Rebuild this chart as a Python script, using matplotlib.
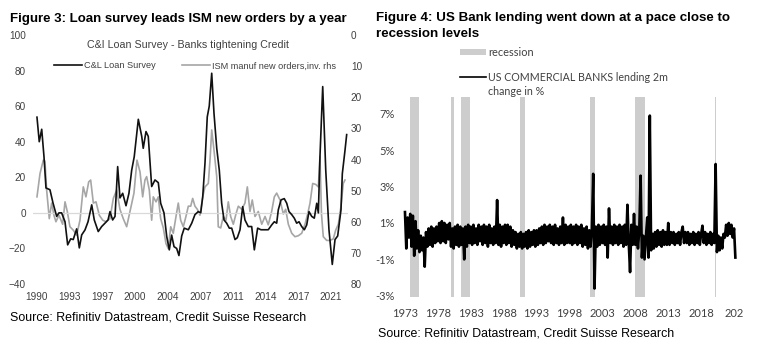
import matplotlib
matplotlib.use('Agg')
import matplotlib.pyplot as plt
import numpy as np
from matplotlib import font_manager
from matplotlib.lines import Line2D
from matplotlib.patches import Rectangle

# ---- Figure 3: C&I loan survey vs ISM new orders (inverted, rhs) ----
loan_years = [1990.0, 1990.24, 1990.5, 1990.74, 1990.95, 1991.37, 1991.69, 1992.08, 1992.32, 1992.6,
              1992.96, 1993.24, 1993.56, 1993.83, 1994.19, 1994.47, 1994.72, 1995.07, 1995.39, 1995.78,
              1996.05, 1996.47, 1996.83, 1997.18, 1997.5, 1997.71, 1997.99, 1998.24, 1998.52, 1998.76,
              1999.05, 1999.4, 1999.71, 2000.0, 2000.27, 2000.7, 2001.06, 2001.22, 2001.51, 2001.75,
              2002.11, 2002.46, 2002.81, 2003.06, 2003.41, 2003.7, 2003.97, 2004.22, 2004.47, 2004.75,
              2004.99, 2005.28, 2005.55, 2005.98, 2006.34, 2006.68, 2007.03, 2007.29, 2007.5, 2007.74,
              2007.98, 2008.19, 2008.45, 2008.69, 2008.98, 2009.25, 2009.5, 2009.75, 2010.03, 2010.31,
              2010.56, 2010.91, 2011.15, 2011.44, 2011.72, 2011.96, 2012.31, 2012.67, 2012.95, 2013.3,
              2013.65, 2014.08, 2014.42, 2014.78, 2015.06, 2015.31, 2015.48, 2015.77, 2016.11, 2016.37,
              2016.61, 2016.9, 2017.17, 2017.42, 2017.67, 2017.95, 2018.23, 2018.48, 2018.72, 2019.01,
              2019.28, 2019.54, 2019.71, 2019.88, 2020.17, 2020.49, 2020.83, 2021.18, 2021.47, 2021.75,
              2022.1, 2022.24, 2022.52, 2022.7]
loan_vals = [53.8, 40, 47, 31.6, 14, 13, 5.6, -2, 0, 0,
             -5, -18, -14.6, -15, -9, -19.7, -12.4, -9.6, -5, 4.5,
             -4, -10.5, -7.7, -5.8, -4, 0.7, -4, -2, 26, 8.4,
             11, 4, 11, 24, 31.6, 52.6, 43, 36.3, 45.7, 43,
             14.8, 18.5, 17, 5.4, 0, -13.3, -20.8, -12.5, -19, -20,
             -24, -13, -8.6, -9.5, -5.8, -1, 0.7, 0, 9, 28,
             54, 60, 78.5, 56, 36.3, 24, 5.4, -4, -5.8, -8.6,
             -8.6, -15, -14, -9.5, 3.5, -4, -7.7, -7.7, -20.8, -8.6,
             -9.5, -9.5, -9.5, -6.8, -5, -5.8, 1.7, 7.3, 8, 5.4,
             0.7, -1, -3, -5.8, -5, -7.7, -9.5, -6.8, 0.7, -2,
             -3, 5.4, 0, 31.6, 71, 24, -9.5, -29, -15, -13,
             1.7, 22, 35, 44]

ism_years = [1990.0, 1990.32, 1990.67, 1990.84, 1991.02, 1991.3, 1991.55, 1991.8, 1992.0, 1992.32,
             1992.71, 1992.96, 1993.2, 1993.48, 1993.83, 1994.19, 1994.54, 1994.89, 1995.17, 1995.46,
             1995.67, 1995.95, 1996.23, 1996.58, 1996.94, 1997.29, 1997.71, 1998.06, 1998.42, 1998.76,
             1999.11, 1999.47, 1999.82, 2000.24, 2000.56, 2000.88, 2001.16, 2001.4, 2001.58, 2001.86,
             2002.11, 2002.28, 2002.57, 2002.81, 2003.06, 2003.34, 2003.62, 2003.86, 2004.12, 2004.39,
             2004.68, 2004.92, 2005.17, 2005.45, 2005.73, 2005.98, 2006.23, 2006.44, 2006.68, 2006.93,
             2007.21, 2007.5, 2007.74, 2008.09, 2008.27, 2008.45, 2008.69, 2008.98, 2009.14, 2009.4,
             2009.67, 2009.96, 2010.2, 2010.45, 2010.73, 2011.01, 2011.26, 2011.62, 2011.96, 2012.21,
             2012.49, 2012.73, 2013.02, 2013.37, 2013.73, 2014.08, 2014.42, 2014.78, 2015.06, 2015.31,
             2015.66, 2016.01, 2016.26, 2016.54, 2016.9, 2017.24, 2017.59, 2017.95, 2018.3, 2018.58,
             2018.83, 2019.11, 2019.43, 2019.71, 2019.88, 2020.04, 2020.23, 2020.59, 2020.94, 2021.29,
             2021.54, 2021.82, 2022.1, 2022.34, 2022.52]
ism_vals = [52, 44.5, 40.2, 40.5, 49.8, 59, 54, 58, 60, 57.9,
            60.8, 53.6, 56.7, 61.6, 62.7, 64.3, 59.5, 48.8, 52, 47.2,
            46.6, 54, 53.6, 57.9, 59.5, 60, 59, 52.5, 49.8, 56,
            59, 61.6, 56.7, 50.8, 40.2, 44, 52, 46.6, 45.5, 49.8,
            59.5, 52, 53.6, 52, 59, 62, 67, 68.6, 61.6, 63.7,
            58.3, 54, 59.5, 61.6, 58.3, 55, 55, 52.5, 55, 56,
            57.9, 52, 48.8, 47.7, 40.2, 30.5, 37, 45.5, 61.6, 62,
            58.3, 59.5, 53.6, 58.3, 60.8, 57.5, 55, 56, 54, 48.8,
            56.7, 53, 58.3, 56.7, 60.8, 58.3, 61, 56.7, 52, 50.8,
            53, 57.5, 56, 60.8, 63.7, 64.8, 64.5, 63.7, 60.8, 57.5,
            54, 47.7, 48, 48.8, 39, 57.5, 64.8, 66, 66, 65.5,
            62.7, 60.8, 55, 47.7, 46.6]

left_tick_pos = [1990.0, 1993.45, 1996.9, 2000.35, 2003.8, 2007.25, 2010.7, 2014.15, 2017.6, 2021.05]
left_tick_labels = ['1990', '1993', '1997', '2000', '2004', '2007', '2011', '2014', '2017', '2021']

# ---- Figure 4: US commercial banks lending, 2m change in % ----
lending_start = 1973.0
lending_step = 0.2
lending_vals = [
    1.6, -0.4, 1.3, 0.2, 1.5, -0.3, 1.4, -0.8, 1.1, -0.4, 0.6, -0.6, 0.3, -0.5, 0.2, -1.4, 0.5, -0.3, 0.7, -0.2, 0.8, -0.3, 0.7, -0.1, 0.8,
    0.0, 1.0, -0.1, 1.1, 0.0, 1.0, -0.1, 0.9, 0.1, 1.0, -0.3, 0.7, -0.4, 0.8, -0.2, 0.9, -0.3, 0.8, -0.2, 0.7, -1.0, 0.8, -0.3, 0.9, -0.1,
    0.8, -0.2, 0.9, -0.1, 0.7, -0.2, 0.9, 0.0, 0.8, -0.2, 0.9, -0.1, 0.8, -0.3, 0.9, -0.1, 0.7, -0.2, 0.8, -0.1, 2.26, -0.2, 0.9, -0.3, 0.8,
    -0.1, 0.9, -0.2, 0.9, -0.1, 0.8, -0.3, 0.6, -0.2, 0.5, -0.4, 0.4, -0.3, 0.5, -0.4, 0.4, -0.3, 0.5, -0.4, 0.6, -0.3, 0.5, -0.2, 0.6, -0.3,
    0.6, -0.2, 0.7, -0.1, 0.8, -0.2, 0.9, -0.1, 0.8, 0.0, 0.9, -0.1, 0.8, -0.2, 0.9, -0.1, 0.7, -0.2, 0.8, -0.1, 1.3, -0.2, 0.9, -0.1, 0.8,
    -0.1, 0.9, -0.2, 0.8, -0.1, 0.9, -0.2, 0.8, -0.1, 0.9, -0.3, 0.7, -0.2, 0.8, -0.4, 0.6, -0.3, 0.7, 3.7, -2.6, 0.8, -0.3, 0.9, -0.2, 0.8,
    -0.1, 0.9, -0.2, 0.8, -0.9, 1.8, -0.1, 0.8, -0.2, 0.9, -0.1, 0.8, -0.2, 0.9, -0.1, 0.8, -0.3, 0.9, -0.2, 2.0, -0.1, -1.7, 0.9, -0.2, 1.5,
    -0.2, 0.8, -0.4, 0.6, 3.6, -0.9, 0.3, -1.0, 0.2, 1.3, -0.9, 6.9, -0.5, 0.4, -0.4, 0.5, -0.3, 0.6, -0.2, 0.5, -0.3, 0.6, -0.2, 0.5, -0.2,
    1.0, -0.2, 0.5, -0.1, 0.5, -0.2, 0.4, -0.1, 0.5, -0.2, 0.5, 0.8, -0.1, 0.5, -0.1, 0.5, -0.2, 0.4, -0.1, 0.5, -0.2, 0.4, -0.1, 0.5, -0.2,
    0.4, 0.85, -0.1, 0.5, -0.2, 0.4, -0.1, 0.5, -0.2, 0.4, -0.1, 4.24, -0.6, 0.3, -0.5, 0.2, -0.4, 0.4, 0.2, 0.9, 0.3, 1.0, 0.4, 0.9, 0.2, 0.7, -0.9,
]
recessions = [(1973.83, 1975.17), (1980.0, 1980.5), (1981.5, 1982.83), (1990.5, 1991.17),
              (2001.17, 2001.83), (2007.92, 2009.42), (2020.08, 2020.33)]
right_tick_years = [1973, 1978, 1983, 1988, 1993, 1998, 2003, 2008, 2013, 2018, 2023]
right_tick_labels = ['1973', '1978', '1983', '1988', '1993', '1998', '2003', '2008', '2013', '2018', '202']
right_y_ticks = [-3, -1, 1, 3, 5, 7]


def have_font(name):
    try:
        font_manager.findfont(name, fallback_to_default=False)
        return True
    except Exception:
        return False


narrow = 'Liberation Sans Narrow' if have_font('Liberation Sans Narrow') else 'Liberation Sans'
body = 'Liberation Sans'
calib = 'Lato'

W, H = 760, 352
fig = plt.figure(figsize=(7.6, 3.52), dpi=100)


def fx(px):
    return px / W


def fy(py):
    return 1 - py / H


# ---------------- left chart ----------------
ax1 = fig.add_axes([fx(33), fy(284), fx(315), 249 / H])
ax1.axhline(0, color='#d9d9d9', lw=0.9, zorder=1)
ax2 = ax1.twinx()
l_ism, = ax2.plot(ism_years, ism_vals, color='#a6a6a6', lw=1.2, zorder=2)
l_loan, = ax1.plot(loan_years, loan_vals, color='#111111', lw=1.2, zorder=3)
ax1.set_zorder(ax2.get_zorder() + 1)
ax1.patch.set_visible(False)

ax1.set_xlim(1989.58, 2022.84)
ax1.set_ylim(-40, 100)
ax2.set_ylim(80, 0)
ax1.set_yticks(range(-40, 101, 20))
ax2.set_yticks(range(0, 81, 10))
ax1.set_xticks(left_tick_pos)
ax1.set_xticklabels(left_tick_labels)
for a in (ax1, ax2):
    for s in a.spines.values():
        s.set_visible(False)
    a.tick_params(length=0, labelsize=7.2, labelcolor='#404040')
    for lab in a.get_xticklabels() + a.get_yticklabels():
        lab.set_fontfamily(narrow)
ax1.tick_params(axis='y', pad=5)
ax1.tick_params(axis='x', pad=6)
ax2.tick_params(axis='y', pad=2)

leg = ax1.legend([l_loan, l_ism], ['C&L Loan Survey', 'ISM manuf new orders,inv. rhs'],
                 loc='center', bbox_to_anchor=(fx(195), fy(66)), bbox_transform=fig.transFigure,
                 ncol=2, frameon=False, handlelength=3.1, handletextpad=0.25, columnspacing=2.8,
                 prop={'family': narrow, 'size': 6.6})
for t in leg.get_texts():
    t.set_color('#404040')

fig.text(fx(188), fy(45), 'C&I Loan Survey - Banks tightening Credit', ha='center', va='center',
         fontsize=7.7, color='#404040', family=narrow)

# ---------------- right chart ----------------
ax3 = fig.add_axes([fx(403), fy(296.7), fx(335), 200.2 / H])
for a, b in recessions:
    ax3.axvspan(a, b, color='#cdcdcd', lw=0, zorder=1)
lend_x = lending_start + lending_step * np.arange(len(lending_vals))
ax3.plot(lend_x, lending_vals, color='black', lw=1.9, zorder=3)
ax3.set_xlim(1972.7, 2023.6)
ax3.set_ylim(-3.05, 7.95)
ax3.set_yticks(right_y_ticks)
ax3.set_yticklabels([f'{v}%' for v in right_y_ticks])
ax3.set_xticks(right_tick_years)
ax3.set_xticklabels(right_tick_labels)
for s in ax3.spines.values():
    s.set_visible(False)
ax3.tick_params(length=0, labelsize=8, labelcolor='#404040')
ax3.tick_params(axis='y', pad=6)
ax3.tick_params(axis='x', pad=8)
for lab in ax3.get_xticklabels() + ax3.get_yticklabels():
    lab.set_fontfamily(calib)

# legend drawn above the plot area, as in the source
fig.add_artist(Rectangle((fx(460), fy(55)), fx(26), 6 / H, transform=fig.transFigure,
                         facecolor='#cdcdcd', edgecolor='none'))
fig.text(fx(488), fy(52), 'recession', ha='left', va='center', fontsize=7.9,
         color='#404040', family=calib)
fig.add_artist(Line2D([fx(460), fx(486)], [fy(77), fy(77)], transform=fig.transFigure,
                      color='black', lw=1.2))
fig.text(fx(488), fy(84.5), 'US COMMERCIAL BANKS lending 2m\nchange in %', ha='left', va='center',
         fontsize=7.7, color='#404040', family=calib, linespacing=1.35)

# ---------------- titles and sources ----------------
fig.text(fx(10), fy(22), 'Figure 3: Loan survey leads ISM new orders by a year', ha='left',
         va='baseline', fontsize=9.5, fontweight='bold', family=body)
fig.text(fx(376), fy(12), 'Figure 4: US Bank lending went down at a pace close to\nrecession levels',
         ha='left', va='top', fontsize=9.6, fontweight='bold', family=body, linespacing=1.48)
fig.text(fx(10), fy(321), 'Source: Refinitiv Datastream, Credit Suisse Research', ha='left',
         va='baseline', fontsize=8.9, family=body)
fig.text(fx(378), fy(337), 'Source: Refinitiv Datastream, Credit Suisse Research', ha='left',
         va='baseline', fontsize=8.9, family=body)

fig.savefig('out.png', dpi=100, facecolor='white')
